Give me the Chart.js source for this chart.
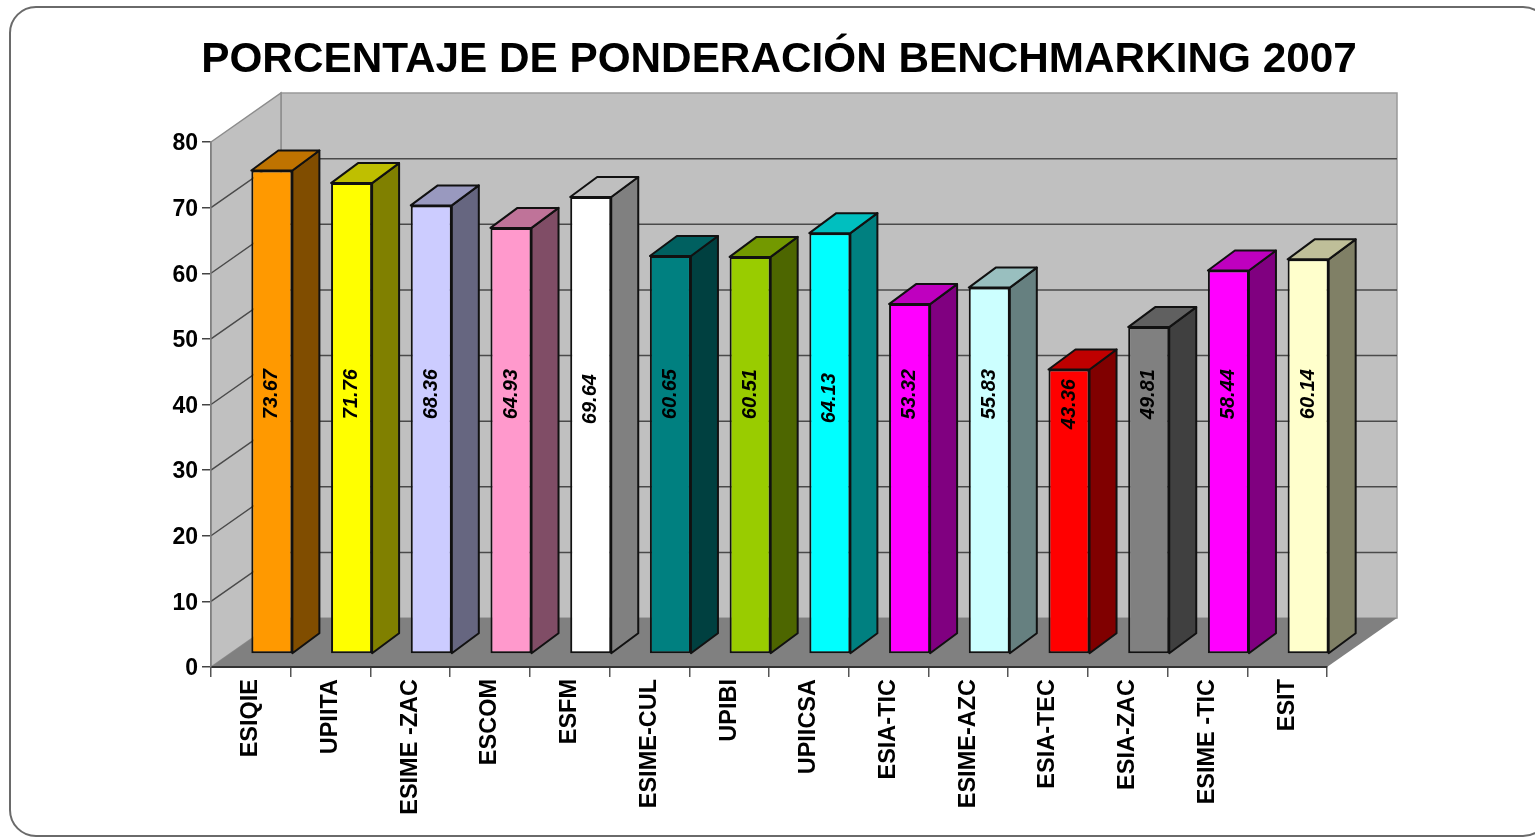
<!DOCTYPE html>
<html>
<head>
<meta charset="utf-8">
<title>Porcentaje de ponderación Benchmarking 2007</title>
<script src="https://cdn.jsdelivr.net/npm/chart.js@4/dist/chart.umd.js"></script>
<style>
    html, body { margin: 0; padding: 0; background: #fff; overflow: hidden; }
    canvas { display: block; filter: blur(0.5px); }
</style>
</head>
<body>
<canvas id="chart" width="1535" height="838"></canvas>
<script>
// Chart data
const categories = ['ESIQIE', 'UPIITA', 'ESIME -ZAC', 'ESCOM', 'ESFM', 'ESIME-CUL', 'UPIBI', 'UPIICSA', 'ESIA-TIC', 'ESIME-AZC', 'ESIA-TEC', 'ESIA-ZAC', 'ESIME -TIC', 'ESIT'];
const percentages = [73.67, 71.76, 68.36, 64.93, 69.64, 60.65, 60.51, 64.13, 53.32, 55.83, 43.36, 49.81, 58.44, 60.14];
const barColors = ['#ff9900', '#ffff00', '#ccccff', '#ff99cc', '#ffffff', '#008080', '#99cc00', '#00ffff', '#ff00ff', '#ccffff', '#ff0000', '#808080', '#ff00ff', '#ffffcc'];
const chartTitle = 'PORCENTAJE DE PONDERACIÓN BENCHMARKING 2007';

// 3D look
const WALL_DX = 70, WALL_DY = -49;     // back wall offset from the axis plane
const BAR_DX = 21, BAR_DY = -13;       // bar front face offset from the axis plane
const DEPTH_DX = 27, DEPTH_DY = -20;   // bar depth
const LABEL_AT = 39.6;                 // value level the rotated labels sit on
const labelNudges = { 4: 5, 7: 4, 10: 10 };

function shade(hex, factor) {
    const n = parseInt(hex.slice(1), 16);
    const ch = shift => Math.round(((n >> shift) & 255) * factor);
    return `rgb(${ch(16)},${ch(8)},${ch(0)})`;
}

function polygon(ctx, points, fill, stroke, lineWidth) {
    ctx.beginPath();
    points.forEach(([x, y], i) => i ? ctx.lineTo(x, y) : ctx.moveTo(x, y));
    ctx.closePath();
    if (fill) { ctx.fillStyle = fill; ctx.fill(); }
    if (stroke) { ctx.strokeStyle = stroke; ctx.lineWidth = lineWidth; ctx.stroke(); }
}

// Frame, title, walls and floor go under the scales
const backdrop = {
    id: 'backdrop',
    beforeDraw(chart) {
        const { ctx, chartArea: a, scales: { y } } = chart;
        ctx.save();

        ctx.beginPath();
        ctx.roundRect(10, 7, 1539, 829, 26);
        ctx.fillStyle = '#fff';
        ctx.fill();
        ctx.strokeStyle = '#6a6a6a';
        ctx.lineWidth = 2;
        ctx.stroke();

        ctx.fillStyle = '#000';
        ctx.font = 'bold 42.3px "Liberation Sans"';
        ctx.textAlign = 'center';
        ctx.textBaseline = 'middle';
        ctx.fillText(chartTitle, 779, 60);

        const l = a.left, r = a.right, t = a.top, b = a.bottom;
        const dx = WALL_DX, dy = WALL_DY;
        polygon(ctx, [[l + dx, t + dy], [r + dx, t + dy], [r + dx, b + dy], [l + dx, b + dy]], '#c0c0c0', '#999', 1.5);
        polygon(ctx, [[l, t], [l + dx, t + dy], [l + dx, b + dy], [l, b]], '#c0c0c0', '#8c8c8c', 1.5);
        polygon(ctx, [[l, b], [r, b], [r + dx, b + dy], [l + dx, b + dy]], '#808080');

        ctx.strokeStyle = '#4a4a4a';
        ctx.lineWidth = 1.5;
        y.ticks.forEach(tick => {
            if (tick.value === 0 || tick.value === 80) return;
            const py = y.getPixelForValue(tick.value);
            ctx.beginPath();
            ctx.moveTo(l, py);
            ctx.lineTo(l + dx, py + dy);
            ctx.lineTo(r + dx, py + dy);
            ctx.stroke();
        });
        ctx.restore();
    }
};

// Library draws the front faces, shifted; top and side faces are added around them
const bars3d = {
    id: 'bars3d',
    beforeDatasetDraw(chart, args) {
        const { ctx } = chart;
        const meta = chart.getDatasetMeta(args.index);
        ctx.save();
        ctx.translate(BAR_DX, BAR_DY);
        ctx.lineJoin = 'round';
        meta.data.forEach((bar, i) => {
            const x0 = bar.x - bar.width / 2, x1 = bar.x + bar.width / 2;
            const top = bar.y, base = bar.base;
            const dx = DEPTH_DX, dy = DEPTH_DY;
            polygon(ctx, [[x1, top], [x1 + dx, top + dy], [x1 + dx, base + dy], [x1, base]], shade(barColors[i], 0.5), '#111', 2);
            polygon(ctx, [[x0, top], [x0 + dx, top + dy], [x1 + dx, top + dy], [x1, top]], shade(barColors[i], 0.75), '#111', 2);
        });
    },
    afterDatasetDraw(chart, args) {
        const { ctx, scales: { y } } = chart;
        const meta = chart.getDatasetMeta(args.index);
        ctx.fillStyle = '#000';
        ctx.font = 'italic bold 20px "Liberation Sans"';
        ctx.textAlign = 'center';
        ctx.textBaseline = 'middle';
        meta.data.forEach((bar, i) => {
            ctx.save();
            ctx.translate(bar.x, y.getPixelForValue(LABEL_AT) + (labelNudges[i] || 0));
            ctx.rotate(-Math.PI / 2);
            ctx.fillText(percentages[i].toFixed(2), 0, 0);
            ctx.restore();
        });
        ctx.restore();
    }
};

new Chart(document.getElementById('chart'), {
    type: 'bar',
    data: {
        labels: categories,
        datasets: [{
            data: percentages,
            backgroundColor: barColors,
            borderColor: '#111',
            borderWidth: 2,
            borderSkipped: false,
            categoryPercentage: 0.515,
            barPercentage: 1
        }]
    },
    options: {
        responsive: false,
        animation: false,
        layout: { padding: { left: 100, right: 208, top: 142, bottom: 21 } },
        plugins: { legend: { display: false }, tooltip: { enabled: false } },
        scales: {
            x: {
                afterFit: scale => { scale.height = 150; },
                border: { color: '#333', width: 2 },
                grid: { drawOnChartArea: false, color: '#555', lineWidth: 1.5, tickLength: 10 },
                ticks: {
                    autoSkip: false,
                    minRotation: 90,
                    maxRotation: 90,
                    padding: 2,
                    color: '#000',
                    font: { family: '"Liberation Sans"', size: 23.5, weight: 'bold' }
                }
            },
            y: {
                min: 0,
                max: 80,
                afterFit: scale => { scale.width = 111; },
                border: { color: '#808080', width: 1.5 },
                grid: { drawOnChartArea: false, color: '#444', lineWidth: 1.5, tickLength: 9 },
                ticks: {
                    stepSize: 10,
                    padding: 4,
                    labelOffset: 2,
                    color: '#000',
                    font: { family: '"Liberation Sans"', size: 23, weight: 'bold' }
                }
            }
        }
    },
    plugins: [backdrop, bars3d]
});
</script>
</body>
</html>
